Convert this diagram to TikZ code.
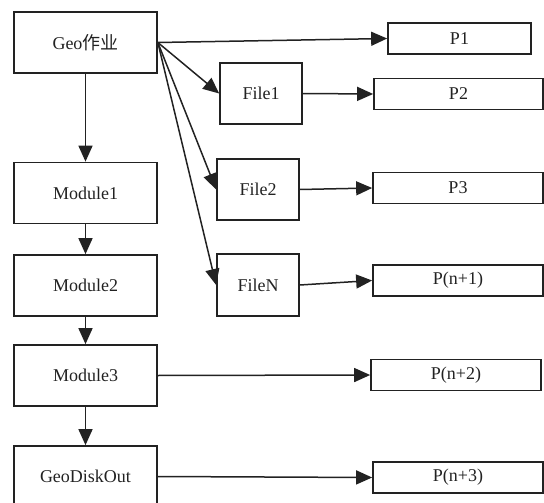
\documentclass[tikz,border=0pt]{standalone}
\usepackage{fontspec}
\setmainfont{Liberation Serif}
\newfontfamily\cjk{Noto Sans CJK SC}
\usetikzlibrary{arrows.meta}
\definecolor{ink}{HTML}{222222}
\begin{document}
\begin{tikzpicture}[x=1pt,y=-1pt,
  box/.style={draw=ink,line width=1.7pt,rectangle,inner sep=0pt,
    font=\fontsize{18}{20}\selectfont,text=ink},
  bigbox/.style={box,minimum width=143pt,minimum height=61pt},
  filebox/.style={box,minimum width=82pt,minimum height=61pt},
  outbox/.style={box,minimum width=170pt,minimum height=31pt},
  link/.style={draw=ink,line width=1.5pt,-{Triangle[length=16pt,width=14pt]}}]
\useasboundingbox (0,0) rectangle (544,503);
% left column: job and modules
\node[bigbox] (geo) at (85.5,42.5) {Geo{\cjk 作业}};
\node[bigbox] (m1) at (85.5,193) {Module1};
\node[bigbox] (m2) at (85.5,285.5) {Module2};
\node[bigbox] (m3) at (85.5,375.5) {Module3};
\node[bigbox] (gdo) at (85.5,476.5) {GeoDiskOut};
% middle column: files
\node[filebox] (f1) at (261,93.5) {File1};
\node[filebox] (f2) at (258,189.5) {File2};
\node[filebox,minimum height=62pt] (fn) at (258,285) {FileN};
% right column: processes
\node[outbox,minimum width=143pt] (p1) at (459.5,38.5) {P1};
\node[outbox,minimum width=169pt] (p2) at (458.5,94) {P2};
\node[outbox] (p3) at (458,188) {P3};
\node[outbox] (pn1) at (458,280.5) {P(n+1)};
\node[outbox] (pn2) at (456,375) {P(n+2)};
\node[outbox] (pn3) at (458,477.5) {P(n+3)};
% connectors
\draw[link] (geo.east) -- (p1.west);
\draw[link] (geo.east) -- (f1.west);
\draw[link] (geo.east) -- (f2.west);
\draw[link] (geo.east) -- (fn.west);
\draw[link] (f1.east) -- (p2.west);
\draw[link] (f2.east) -- (p3.west);
\draw[link] (fn.east) -- (pn1.west);
\draw[link] (geo.south) -- (m1.north);
\draw[link] (m1.south) -- (m2.north);
\draw[link] (m2.south) -- (m3.north);
\draw[link] (m3.south) -- (gdo.north);
\draw[link] (m3.east) -- (pn2.west);
\draw[link] (gdo.east) -- (pn3.west);
\end{tikzpicture}
\end{document}
